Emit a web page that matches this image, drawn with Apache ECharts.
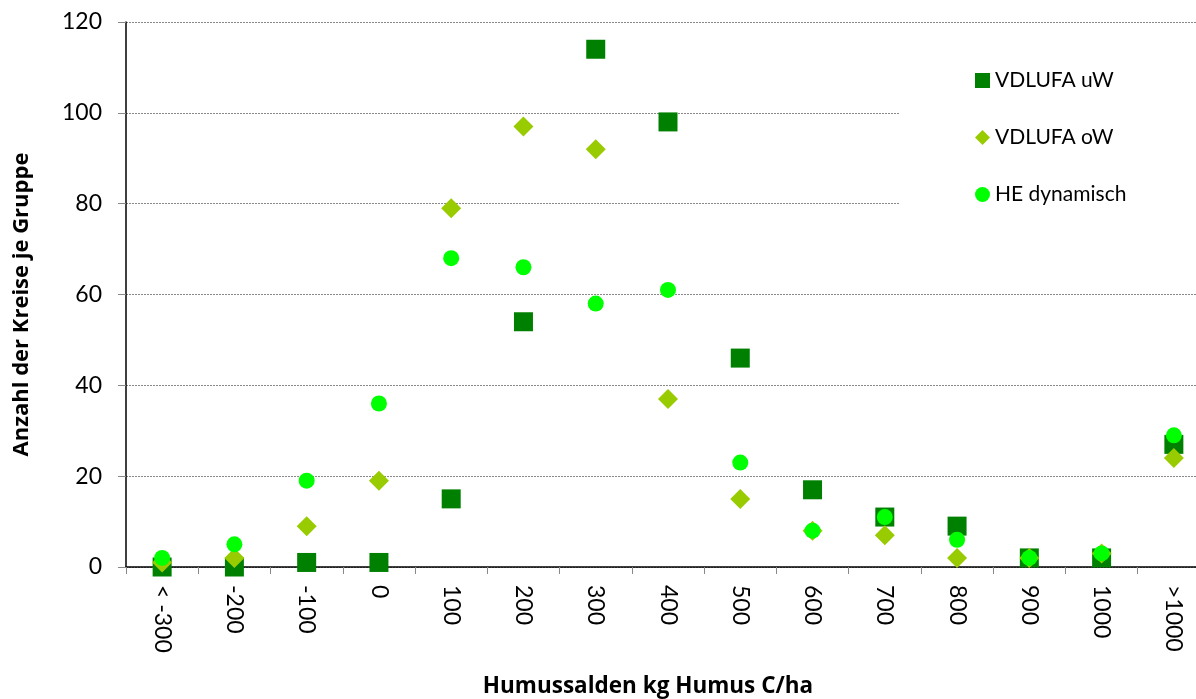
<!DOCTYPE html>
<html>
<head>
<meta charset="utf-8">
<script src="https://cdn.jsdelivr.net/npm/echarts@6/dist/echarts.min.js"></script>
<style>
  html, body { margin: 0; padding: 0; background: #fff; }
  #chart { width: 1196px; height: 699px; }
</style>
</head>
<body>
<div id="chart"></div>
<script>
// Kategorien (Humussalden)
const categories = ["< -300", "-200", "-100", "0", "100", "200", "300", "400", "500", "600", "700", "800", "900", "1000", ">1000"];
const vdlufaUW = [0, 0, 1, 1, 15, 54, 114, 98, 46, 17, 11, 9, 2, 2, 27];
const vdlufaOW = [1, 2, 9, 19, 79, 97, 92, 37, 15, 8, 7, 2, 2, 3, 24];
const heDynamisch = [2, 5, 19, 36, 68, 66, 58, 61, 23, 8, 11, 6, 2, 3, 29];

const font = "Lato";
const titleFont = "Open Sans";

const chart = echarts.init(document.getElementById("chart"));

const option = {
  animation: false,
  textStyle: { fontFamily: font },
  grid: { left: 126, right: -14, top: 22, bottom: 132, outerBoundsMode: "none", containLabel: false },
  legend: {
    orient: "vertical",
    left: 900,
    top: 30,
    padding: [40, 120, 30, 75],
    backgroundColor: "#fff",
    itemGap: 36,
    itemWidth: 15,
    itemHeight: 15,
    textStyle: { fontFamily: font, fontSize: 21, color: "#000" },
    data: [
      { name: "VDLUFA uW", icon: "rect" },
      { name: "VDLUFA oW", icon: "diamond" },
      { name: "HE dynamisch", icon: "circle" },
    ],
  },
  xAxis: {
    type: "category",
    data: categories,
    name: "Humussalden kg Humus C/ha",
    nameLocation: "middle",
    nameGap: 108,
    nameTextStyle: { fontFamily: titleFont, fontSize: 22.5, fontWeight: "bold", color: "#000", padding: [0, 40, 0, 0] },
    axisLine: { lineStyle: { color: "#000", width: 1.5 } },
    axisTick: { show: true, length: 7, lineStyle: { color: "#888" } },
    axisLabel: { rotate: -90, fontSize: 23, color: "#000", margin: 18, fontFamily: font },
    splitLine: { show: false },
  },
  yAxis: {
    type: "value",
    min: 0,
    max: 120,
    interval: 20,
    name: "Anzahl der Kreise je Gruppe",
    nameLocation: "middle",
    nameGap: 93,
    nameTextStyle: { fontFamily: titleFont, fontSize: 22, fontWeight: "bold", color: "#000", padding: [0, 20, 0, 0] },
    axisLine: { show: true, lineStyle: { color: "#000", width: 1.5 } },
    axisTick: { show: true, length: 8, lineStyle: { color: "#888" } },
    axisLabel: { fontSize: 23, color: "#000", margin: 24, fontFamily: font },
    splitLine: { show: true, lineStyle: { color: "#888", type: [2, 1], width: 1 } },
  },
  series: [
    {
      name: "VDLUFA uW",
      type: "scatter",
      symbol: "rect",
      symbolSize: 19,
      itemStyle: { color: "#008000", opacity: 1 },
      data: vdlufaUW,
      z: 2,
    },
    {
      name: "VDLUFA oW",
      type: "scatter",
      symbol: "diamond",
      symbolSize: 20,
      itemStyle: { color: "#99CC00", opacity: 1 },
      data: vdlufaOW,
      z: 3,
    },
    {
      name: "HE dynamisch",
      type: "scatter",
      symbol: "circle",
      symbolSize: 16,
      itemStyle: { color: "#00FF00", opacity: 1 },
      data: heDynamisch,
      z: 4,
    },
  ],
};

chart.setOption(option);
</script>
</body>
</html>
